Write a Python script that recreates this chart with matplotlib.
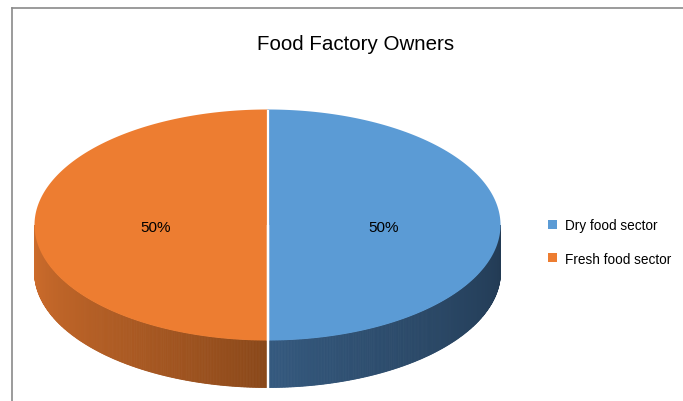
import numpy as np
import matplotlib
matplotlib.use("Agg")
import matplotlib.pyplot as plt
from matplotlib.patches import Polygon, Patch
from matplotlib.lines import Line2D

plt.rcParams['font.family'] = ['Liberation Sans', 'DejaVu Sans']

# Data
title = "Food Factory Owners"
categories = ["Dry food sector", "Fresh food sector"]
values = [50, 50]
top_colors = ["#5B9BD5", "#ED7D31"]
# side wall shading: (colour at the slice's centre seam, colour at far edge)
wall_colors = [("#355A80", "#223A53"), ("#884719", "#D06E2D")]

W, H = 683, 402
fig = plt.figure(figsize=(W / 100, H / 100), dpi=100)
ax = fig.add_axes([0, 0, 1, 1])
ax.set_xlim(0, W)
ax.set_ylim(H, 0)
ax.axis("off")

# Pie geometry (pixel space)
cx, cy = 267.5, 226.0
a, b = 233.0, 115.5
depth = 47.0


def pt(theta, r=1.0, dy=0.0):
    return cx + r * a * np.cos(theta), cy - r * b * np.sin(theta) + dy


fractions = np.array(values, dtype=float) / np.sum(values)
start = np.pi / 2  # first slice starts at 12 o'clock, going clockwise
angles = []
for f in fractions:
    end = start - f * 2 * np.pi
    angles.append((start, end))
    start = end


def lerp_color(c1, c2, t):
    c1 = np.array(matplotlib.colors.to_rgb(c1))
    c2 = np.array(matplotlib.colors.to_rgb(c2))
    return c1 + (c2 - c1) * t


# Side walls (front half only: angles between pi and 2pi)
for (t0, t1), (cs, ce) in zip(angles, wall_colors):
    lo, hi = min(t0, t1), max(t0, t1)
    for shift in (-2 * np.pi, 0, 2 * np.pi):
        l, h = lo + shift, hi + shift
        vl, vh = max(l, np.pi), min(h, 2 * np.pi)
        if vh <= vl:
            continue
        n = 240
        th = np.linspace(vl, vh, n + 1)
        for i in range(n):
            ta, tb = th[i], th[i + 1]
            xa, ya = pt(ta)
            xb, yb = pt(tb)
            tm = 0.5 * (ta + tb)
            # distance from the front-centre seam (3pi/2), normalised
            d = abs(tm - 1.5 * np.pi) / (0.5 * np.pi)
            col = lerp_color(cs, ce, min(1.0, d ** 0.8))
            poly = Polygon([(xa, ya), (xb, yb), (xb, yb + depth), (xa, ya + depth)],
                           closed=True, facecolor=col, edgecolor=col, lw=0.6,
                           zorder=1)
            ax.add_patch(poly)

# Top faces
for (t0, t1), col, lab in zip(angles, top_colors, categories):
    th = np.linspace(t0, t1, 400)
    xs, ys = pt(th)
    verts = [(cx, cy)] + list(zip(xs, ys))
    ax.add_patch(Polygon(verts, closed=True, facecolor=col, edgecolor="none",
                         zorder=2, label=lab))

# White seams between slices, running down the wall at the front
for (t0, _t1) in angles:
    x0, y0 = pt(t0)
    ax.plot([cx, x0], [cy, y0], color="white", lw=1.6, zorder=3,
            solid_capstyle="butt")
    if np.isclose(np.sin(t0), -1.0) or np.isclose(np.sin(t0), 1.0):
        xf, yf = pt(-np.pi / 2)
        ax.plot([xf, xf], [cy, yf + depth], color="white", lw=1.6, zorder=3,
                solid_capstyle="butt")

# Percentage labels
for (t0, t1), v in zip(angles, values):
    tm = 0.5 * (t0 + t1)
    x, y = pt(tm, r=0.49)
    pct = 100.0 * v / np.sum(values)
    ax.text(x + 2, y + 2, f"{pct:.0f}%", ha="center", va="center",
            fontsize=11, color="#000000", zorder=4)

# Title
ax.text(356, 45, title, ha="center", va="center", fontsize=14.8, color="#000000")

# Legend
handles = [Patch(facecolor=c, edgecolor="none", label=l)
           for c, l in zip(top_colors, categories)]
ax.legend(handles=handles, loc="center left",
          bbox_to_anchor=(536 / W, 1 - 243 / H), frameon=False,
          fontsize=9.8, handlelength=0.65, handleheight=0.65,
          handletextpad=0.6, labelspacing=1.4, labelcolor="#000000")

# Chart area frame (top and left edges)
ax.add_line(Line2D([12, W], [9, 9], color="#8a8a8a", lw=1.2))
ax.add_line(Line2D([12, 12], [9, H], color="#8a8a8a", lw=1.2))

fig.savefig("out.png", dpi=100)
